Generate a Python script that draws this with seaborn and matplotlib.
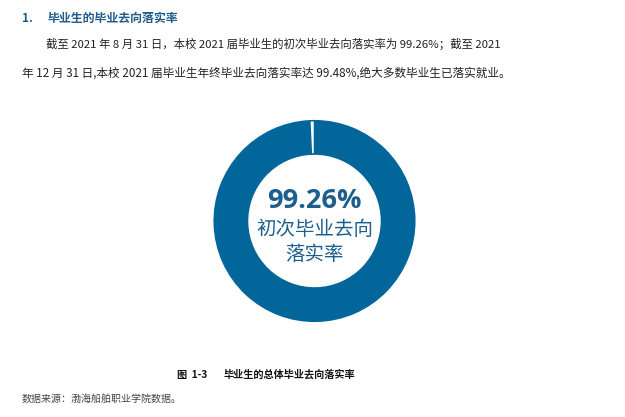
import matplotlib
matplotlib.use("Agg")
import matplotlib.pyplot as plt
import seaborn as sns

labels = ["已落实", "未落实"]
values = [99.26, 0.74]
center_value = "99.26%"
center_label_1 = "初次毕业去向"
center_label_2 = "落实率"
heading_num = "1."
heading = "毕业生的毕业去向落实率"
para_line1 = "截至 2021 年 8 月 31 日，本校 2021 届毕业生的初次毕业去向落实率为 99.26%；截至 2021"
para_line2 = "年 12 月 31 日,本校 2021 届毕业生年终毕业去向落实率达 99.48%,绝大多数毕业生已落实就业。"
caption_num = "图  1-3"
caption = "毕业生的总体毕业去向落实率"
source = "数据来源：渤海船舶职业学院数据。"

sns.set_theme(style="white")
plt.rcParams['font.family'] = ['Noto Sans CJK SC', 'DejaVu Sans']

W, H = 625, 417
fig = plt.figure(figsize=(W / 100, H / 100), dpi=100)
fig.patch.set_facecolor("white")

cx, cy, r = 314.5, 221, 101
ax = fig.add_axes([(cx - r) / W, (H - cy - r) / H, 2 * r / W, 2 * r / H])
ring = "#03669A"
wedges, _ = ax.pie(values, colors=[ring, "white"], startangle=90, counterclock=False,
                   radius=0.993, wedgeprops=dict(width=0.33, edgecolor=ring, linewidth=1.1))
ax.set_xlim(-1, 1)
ax.set_ylim(-1, 1)
ax.set_aspect("equal")
ax.axis("off")

txtc = "#1C5F8E"
ax.text(0, 0.2, center_value, ha="center", va="center", fontsize=19.5,
        fontweight="bold", color=txtc, family=['Open Sans', 'DejaVu Sans'])
ax.text(0, -0.08, center_label_1, ha="center", va="center", fontsize=14, color=txtc)
ax.text(0, -0.33, center_label_2, ha="center", va="center", fontsize=14, color=txtc)

def fx(x):
    return x / W

def fy(y):
    return 1 - y / H

headc = "#1F5C8A"
fig.text(fx(22), fy(18), heading_num, ha="left", va="center", fontsize=8.5,
         fontweight="bold", color=headc)
fig.text(fx(47), fy(18), heading, ha="left", va="center", fontsize=8.6,
         fontweight="bold", color=headc)

fig.text(fx(46), fy(44), para_line1, ha="left", va="center", fontsize=8.2, color="#222222")
fig.text(fx(22), fy(73), para_line2, ha="left", va="center", fontsize=8.4, color="#222222")

fig.text(fx(177), fy(375), caption_num, ha="left", va="center", fontsize=7.3,
         fontweight="bold", color="#111111")
fig.text(fx(224), fy(375), caption, ha="left", va="center", fontsize=7.3,
         fontweight="bold", color="#111111")
fig.text(fx(22), fy(399), source, ha="left", va="center", fontsize=7.2, color="#444444")

fig.savefig("out.png", dpi=100, facecolor="white")
